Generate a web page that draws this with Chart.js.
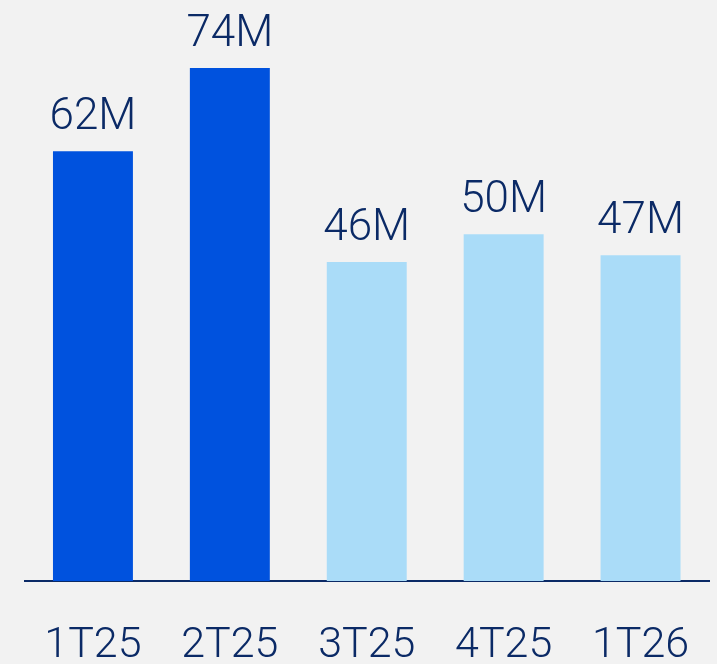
<!DOCTYPE html>
<html>
<head>
<meta charset="utf-8">
<script src="https://cdn.jsdelivr.net/npm/chart.js@4"></script>
<style>
  html, body { margin: 0; padding: 0; background: #f2f2f2; }
  #wrap { width: 717px; height: 664px; }
</style>
</head>
<body>
<div id="wrap"><canvas id="revChart"></canvas></div>
<script>
const quarters = ['1T25', '2T25', '3T25', '4T25', '1T26'];
const values = [62, 74, 46, 50, 47];
const valueLabels = ['62M', '74M', '46M', '50M', '47M'];
const barColors = ['#0052de', '#0052de', '#aadcf8', '#aadcf8', '#aadcf8'];

const navy = '#0b2a66';
const fontFamily = 'Roboto, "Open Sans", sans-serif';

// Value labels above bars
const valueLabelPlugin = {
    id: 'valueLabels',
    afterDatasetsDraw(chart) {
        const ctx = chart.ctx;
        const meta = chart.getDatasetMeta(0);
        ctx.save();
        ctx.fillStyle = navy;
        ctx.font = '300 44px ' + fontFamily;
        ctx.textAlign = 'center';
        ctx.textBaseline = 'alphabetic';
        meta.data.forEach((bar, i) => {
            ctx.fillText(valueLabels[i], bar.x, bar.y - 22);
        });
        ctx.restore();
    }
};

const ctx = document.getElementById('revChart').getContext('2d');
new Chart(ctx, {
    type: 'bar',
    data: {
        labels: quarters,
        datasets: [{
            data: values,
            backgroundColor: barColors,
            borderWidth: 0,
            barPercentage: 0.584,
            categoryPercentage: 1
        }]
    },
    options: {
        responsive: true,
        maintainAspectRatio: false,
        animation: false,
        layout: {
            padding: { left: 24.5, right: 8, top: 0, bottom: 0 }
        },
        plugins: {
            legend: { display: false },
            tooltip: { enabled: false }
        },
        scales: {
            y: {
                display: false,
                min: 0,
                max: 83.8
            },
            x: {
                grid: { display: false, drawTicks: false },
                border: { display: true, color: navy, width: 2 },
                ticks: {
                    color: navy,
                    padding: 39,
                    maxRotation: 0,
                    autoSkip: false,
                    font: { family: fontFamily, size: 43, weight: 300 }
                },
                afterFit(scale) {
                    scale.height = 83;
                    scale.paddingLeft = 0;
                    scale.paddingRight = 0;
                }
            }
        }
    },
    plugins: [valueLabelPlugin]
});
</script>
</body>
</html>
